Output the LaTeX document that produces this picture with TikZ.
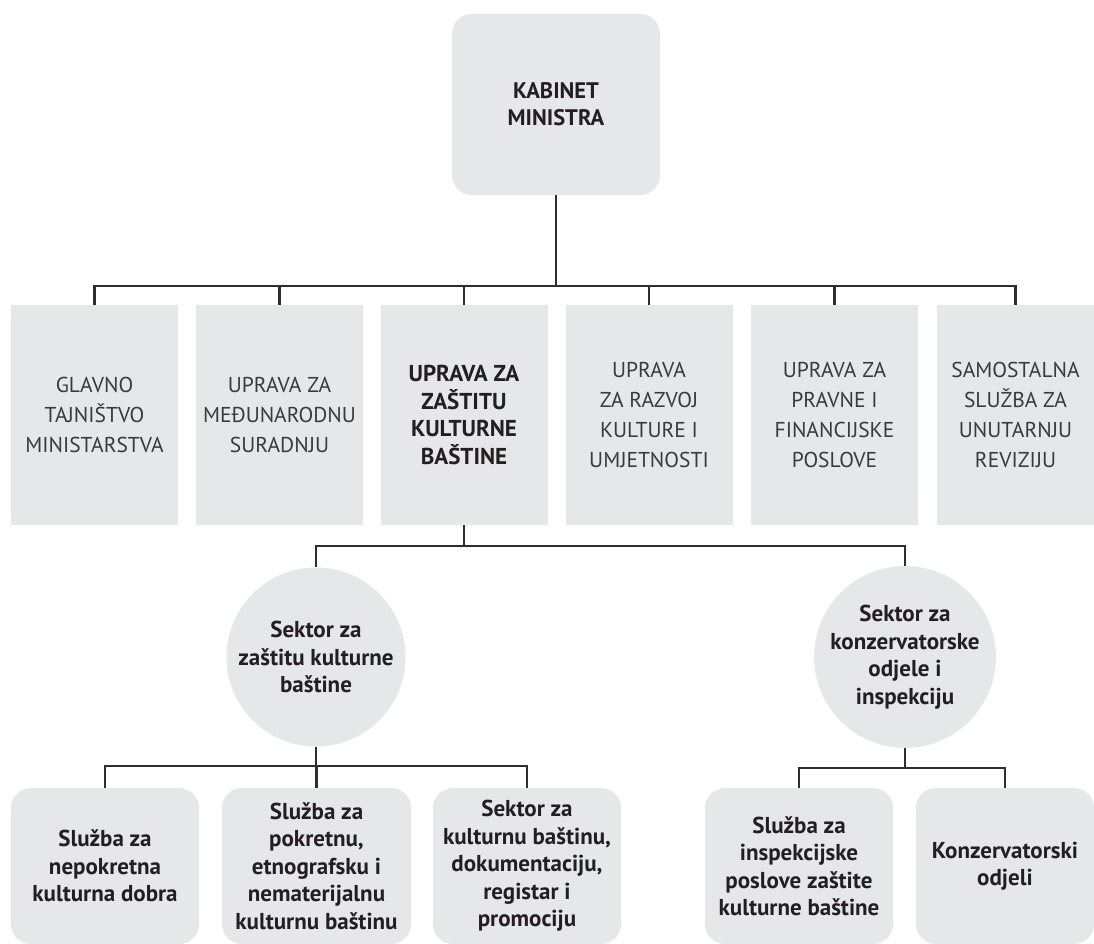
\documentclass[tikz,border=0pt]{standalone}
\usepackage{fontspec}
\setmainfont{PT Sans}
\definecolor{boxgray}{HTML}{E6E7E8}
\definecolor{linegray}{HTML}{2E2E2E}
\definecolor{txtbold}{HTML}{231F20}
\definecolor{txtreg}{HTML}{3A3A3C}
\begin{document}
\begin{tikzpicture}[x=1pt,y=-1pt,
  conn/.style={draw=linegray, line width=2.3pt},
  topbox/.style={fill=boxgray, rounded corners=20pt, minimum width=208pt, minimum height=181pt, inner sep=0pt, align=center, text=txtbold, font=\fontsize{22.5}{27}\selectfont\bfseries},
  rowbox/.style={fill=boxgray, minimum width=167pt, minimum height=220pt, inner sep=0pt, align=center, text=txtreg, font=\fontsize{21.5}{30}\selectfont},
  rowboxb/.style={rowbox, text=txtbold, font=\fontsize{23}{27.5}\selectfont\bfseries},
  sector/.style={circle, fill=boxgray, minimum size=179pt, inner sep=0pt, align=center, text=txtbold, font=\fontsize{23}{27.5}\selectfont\bfseries},
  lowbox/.style={fill=boxgray, rounded corners=20pt, minimum width=188pt, minimum height=156pt, inner sep=0pt, align=center, text=txtbold, font=\fontsize{23}{27.5}\selectfont\bfseries}
]
\useasboundingbox (0,0) rectangle (1094,944);

\node[topbox] (k) at (556,104.5) {KABINET\\MINISTRA};

\node[rowbox] (b1) at (94.5,415) {GLAVNO\\TAJNIŠTVO\\MINISTARSTVA};
\node[rowbox] (b2) at (279.5,415) {UPRAVA ZA\\MEĐUNARODNU\\SURADNJU};
\node[rowboxb] (b3) at (464,415) {UPRAVA ZA\\ZAŠTITU\\KULTURNE\\BAŠTINE};
\node[rowbox] (b4) at (649,415) {UPRAVA\\ZA RAZVOJ\\KULTURE I\\UMJETNOSTI};
\node[rowbox] (b5) at (834.5,415) {UPRAVA ZA\\PRAVNE I\\FINANCIJSKE\\POSLOVE};
\node[rowbox, minimum width=157pt] (b6) at (1015.5,415) {SAMOSTALNA\\SLUŽBA ZA\\UNUTARNJU\\REVIZIJU};

\node[sector] (c1) at (316,657) {Sektor za\\zaštitu kulturne\\baštine};
\node[sector] (c2) at (905,657) {Sektor za\\konzervatorske\\odjele i\\inspekciju};

\node[lowbox] (l1) at (105,866) {Služba za\\nepokretna\\kulturna dobra};
\node[lowbox, minimum width=189pt] (l2) at (316.5,866) {Služba za\\pokretnu,\\etnografsku i\\nematerijalnu\\kulturnu baštinu};
\node[lowbox] (l3) at (527,866) {Sektor za\\kulturnu baštinu,\\dokumentaciju,\\registar i\\promociju};
\node[lowbox] (l4) at (799,866) {Služba za\\inspekcijske\\poslove zaštite\\kulturne baštine};
\node[lowbox, minimum width=178pt] (l5) at (1005,866) {Konzervatorski\\odjeli};

\coordinate (bus1) at (0,286);
\coordinate (bus2) at (0,546);
\coordinate (bus3) at (0,766);
\coordinate (bus4) at (0,768);

\foreach \c in {b1,b2,b3,b4,b5,b6}
  \draw[conn] (k.south) -- (k.south |- bus1) -| (\c.north);
\foreach \c in {c1,c2}
  \draw[conn] (b3.south) -- (b3.south |- bus2) -| (\c.north);
\foreach \c in {l1,l2,l3}
  \draw[conn] (c1.south) -- (c1.south |- bus3) -| (\c.north);
\foreach \c in {l4,l5}
  \draw[conn] (c2.south) -- (c2.south |- bus4) -| (\c.north);
\end{tikzpicture}
\end{document}
